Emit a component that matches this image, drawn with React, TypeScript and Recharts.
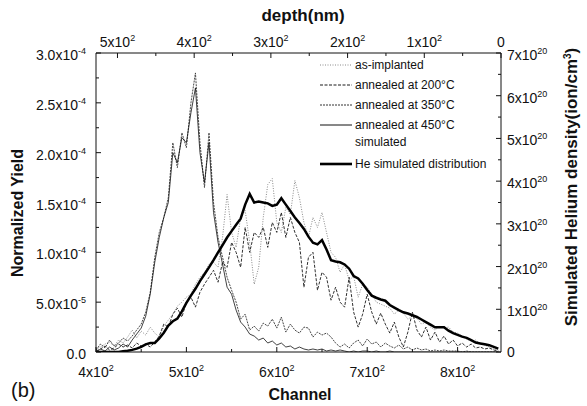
import React from 'react'
import { ComposedChart, Line, XAxis, YAxis, Legend } from 'recharts'

// channel grid, every 5 channels
const CHANNELS = [
  400, 405, 410, 415, 420, 425, 430, 435, 440, 445,
  450, 455, 460, 465, 470, 475, 480, 485, 490, 495,
  500, 505, 510, 515, 520, 525, 530, 535, 540, 545,
  550, 555, 560, 565, 570, 575, 580, 585, 590, 595,
  600, 605, 610, 615, 620, 625, 630, 635, 640, 645,
  650, 655, 660, 665, 670, 675, 680, 685, 690, 695,
  700, 705, 710, 715, 720, 725, 730, 735, 740, 745,
  750, 755, 760, 765, 770, 775, 780, 785, 790, 795,
  800, 805, 810, 815, 820, 825, 830, 835, 840, 845,
]

// normalized yield, units of 1e-5
const AS_IMPLANTED = [
  0.3, 0.5, 0.8, 1.0, 0.6, 1.2, 0.9, 1.5, 2.2, 1.4,
  2.1, 1.7, 2.5, 1.9, 1.5, 2.6, 3.2, 3.8, 4.6, 5.0,
  5.5, 5.8, 6.8, 7.5, 8.0, 8.8, 9.0, 8.5, 11.5, 15.8,
  12.0, 10.5, 13.5, 14.2, 11.0, 6.8, 8.5, 13.5, 16.8, 17.4,
  13.0, 12.0, 14.5, 13.8, 17.2, 15.5, 13.0, 11.5, 13.5, 12.5,
  14.0, 12.0, 10.0, 9.5, 8.0, 8.8, 7.2, 7.6, 5.5, 6.8,
  6.5, 5.8, 5.0, 4.8, 4.6, 4.4, 3.8, 4.2, 3.9, 3.3,
  3.6, 3.4, 2.8, 3.0, 2.5, 2.2, 2.6, 2.4, 2.5, 2.0,
  1.9, 1.6, 1.3, 1.1, 1.2, 0.8, 0.7, 0.5, 0.3, 0.2,
]
const ANNEAL_200 = [
  0.1, 0.3, 0.6, 0.2, 0.4, 0.8, 0.5, 0.7, 0.4, 0.9,
  0.6, 0.8, 0.5, 1.0, 1.6, 2.8, 2.5, 3.8, 4.4, 3.5,
  5.0, 5.5, 4.5, 6.0, 6.8, 7.5, 8.2, 7.0, 9.0, 8.5,
  11.0, 10.0, 8.5, 12.5, 10.0, 12.0, 11.5, 12.5, 10.5, 13.0,
  12.0, 14.0, 11.5, 13.5, 12.0, 11.0, 6.5, 9.5, 10.0, 6.2,
  8.0, 7.5, 5.2, 6.5, 5.0, 4.5, 7.5, 4.0, 2.5, 3.8,
  5.8, 4.0, 2.8, 3.9, 2.8, 1.9, 3.0, 1.5, 0.5, 2.0,
  4.0, 2.2, 1.5, 2.5, 1.2, 2.0, 1.0, 1.6, 0.8, 1.2,
  0.6, 0.9, 0.5, 0.8, 0.4, 0.5, 0.3, 0.4, 0.2, 0.1,
]
const ANNEAL_350 = [
  0.2, 0.8, 0.4, 1.2, 0.6, 0.9, 1.4, 1.1, 1.6, 2.2,
  2.8, 4.0, 6.0, 9.5, 12.0, 13.5, 15.5, 21.0, 18.5, 22.0,
  20.5, 25.0, 28.0, 21.0, 16.5, 22.0, 15.0, 11.5, 9.5, 7.5,
  6.2, 5.0, 3.3, 3.8, 2.2, 2.6, 2.1, 2.9, 2.6, 3.3,
  2.4, 3.5, 2.0, 2.8, 2.2, 1.9, 2.5, 2.4, 1.5, 2.0,
  1.7, 1.9, 1.5, 0.9, 0.5, 0.8, 0.4, 0.9, 1.2, 0.6,
  1.3, 0.8, 1.0, 0.5, 0.9, 0.6, 0.4, 0.7, 0.3, 0.5,
  0.2, 0.4, 0.2, 0.3, 0.1, 0.2, 0.1, 0.2, 0.1, 0.1,
  0.1, 0.0, 0.1, 0.0, 0.0, 0.0, 0.0, 0.0, 0.0, 0.0,
]
const ANNEAL_450 = [
  0.0, 0.3, 0.1, 0.5, 0.2, 0.4, 0.8, 0.5, 1.2, 1.8,
  2.4, 3.6, 5.8, 9.0, 11.5, 13.5, 15.0, 20.0, 19.0, 21.5,
  21.0, 24.0, 26.5, 20.0, 17.0, 21.0, 14.0, 11.0, 8.8, 6.5,
  5.8, 4.2, 3.0, 2.5, 1.8, 1.6, 1.2, 1.4, 0.9, 1.1,
  0.7, 0.9, 0.5, 0.6, 0.3, 0.5, 0.3, 0.2, 0.3, 0.2,
  0.3, 0.1, 0.2, 0.1, 0.2, 0.1, 0.0, 0.1, 0.0, 0.1,
  0.1, 0.0, 0.1, 0.0, 0.0, 0.1, 0.0, 0.0, 0.0, 0.0,
  0.0, 0.0, 0.0, 0.0, 0.0, 0.0, 0.0, 0.0, 0.0, 0.0,
  0.0, 0.0, 0.0, 0.0, 0.0, 0.0, 0.0, 0.0, 0.0, 0.0,
]
// He density, units of 1e20 ion/cm3
const HE_SIM = [
  0, 0, 0, 0, 0, 0, 0.02, 0.03, 0.05, 0.08,
  0.12, 0.18, 0.21, 0.21, 0.32, 0.45, 0.62, 0.72, 0.78, 0.95,
  1.15, 1.32, 1.48, 1.66, 1.82, 1.98, 2.15, 2.33, 2.5, 2.68,
  2.83, 2.98, 3.12, 3.45, 3.7, 3.5, 3.52, 3.5, 3.48, 3.42,
  3.45, 3.6, 3.45, 3.3, 3.15, 3.02, 2.88, 2.7, 2.56, 2.52,
  2.62, 2.4, 2.15, 2.12, 2.1, 2.05, 1.95, 1.78, 1.72, 1.6,
  1.45, 1.32, 1.27, 1.23, 1.2, 1.1, 1.04, 0.98, 0.93, 0.9,
  0.86, 0.82, 0.76, 0.7, 0.64, 0.58, 0.58, 0.58, 0.5, 0.44,
  0.4, 0.36, 0.33, 0.28, 0.22, 0.2, 0.18, 0.16, 0.12, 0.08,
]

const YIELD_TICKS = [0, 2.5, 5, 7.5, 10, 12.5, 15, 17.5, 20, 22.5, 25, 27.5, 30]
const HE_TICKS = [0, 0.5, 1, 1.5, 2, 2.5, 3, 3.5, 4, 4.5, 5, 5.5, 6, 6.5, 7]
const CHANNEL_TICKS = [400, 450, 500, 550, 600, 650, 700, 750, 800]
const DEPTH_TICKS = [0, 50, 100, 150, 200, 250, 300, 350, 400, 450, 500]

// depth axis runs right-to-left: 0 nm at the last channel, 528 nm at channel 400
const CH_MIN = 400
const CH_MAX = 848
const DEPTH_AT_MIN = 528
const depthToCh = (d: number) => CH_MAX - d * (CH_MAX - CH_MIN) / DEPTH_AT_MIN
const chToDepth = (c: number) => Math.round((CH_MAX - c) * DEPTH_AT_MIN / (CH_MAX - CH_MIN))

const data = CHANNELS.map((ch, i) => ({
  ch,
  asImpl: AS_IMPLANTED[i],
  a200: ANNEAL_200[i],
  a350: ANNEAL_350[i],
  a450: ANNEAL_450[i],
  he: HE_SIM[i],
}))

const FONT = '"Liberation Sans", Arial, Helvetica, sans-serif'
const INK = '#111'

const LEGEND_ROWS = [
  { label: 'as-implanted', stroke: '#8a8a8a', dash: '1 1.5', w: 1, top: 2 },
  { label: 'annealed at 200°C', stroke: '#1a1a1a', dash: '3 1.5', w: 1, top: 22 },
  { label: 'annealed at 350°C', stroke: '#333', dash: '2 1', w: 1, top: 42 },
  { label: 'annealed at 450°C', stroke: '#111', dash: undefined, w: 1, top: 62 },
  { label: 'simulated', stroke: null, dash: undefined, w: 0, top: 79 },
  { label: 'He simulated distribution', stroke: '#000', dash: undefined, w: 2.6, top: 101 },
]

function Sci({ x, y, anchor, base, exp }: { x: number; y: number; anchor: 'start' | 'middle' | 'end'; base: string; exp?: string }) {
  return (
    <text x={x} y={y} textAnchor={anchor} fontSize={14} fontFamily={FONT} fill={INK}>
      <tspan>{base}</tspan>
      {exp && <tspan dy={-6} fontSize={9}>{exp}</tspan>}
    </text>
  )
}

const BottomTick = (p: any) => {
  const v = p.payload.value
  const major = v % 100 === 0
  return (
    <g>
      <line x1={p.x} x2={p.x} y1={p.y} y2={p.y - (major ? 5 : 3)} stroke={INK} />
      {major && <Sci x={p.x} y={p.y + 25} anchor="middle" base={`${v / 100}x10`} exp="2" />}
    </g>
  )
}

const TopTick = (p: any) => {
  const v = chToDepth(p.payload.value)
  const major = v % 100 === 0
  return (
    <g>
      <line x1={p.x} x2={p.x} y1={p.y} y2={p.y + (major ? 5 : 3)} stroke={INK} />
      {major && (v === 0
        ? <Sci x={p.x} y={p.y - 6} anchor="middle" base="0" />
        : <Sci x={p.x} y={p.y - 6} anchor="middle" base={`${v / 100}x10`} exp="2" />)}
    </g>
  )
}

const LeftTick = (p: any) => {
  const v = p.payload.value
  const major = v % 5 === 0
  let base = '0.0'
  let exp: string | undefined
  if (v > 0) {
    if (v < 10) { base = `${v.toFixed(1)}x10`; exp = '-5' }
    else { base = `${(v / 10).toFixed(1)}x10`; exp = '-4' }
  }
  return (
    <g>
      <line x1={p.x} x2={p.x + (major ? 5 : 3)} y1={p.y} y2={p.y} stroke={INK} />
      {major && <Sci x={p.x - 10} y={p.y + 7} anchor="end" base={base} exp={exp} />}
    </g>
  )
}

const RightTick = (p: any) => {
  const v = p.payload.value
  const major = Number.isInteger(v)
  return (
    <g>
      <line x1={p.x} x2={p.x - (major ? 5 : 3)} y1={p.y} y2={p.y} stroke={INK} />
      {major && (v === 0
        ? <Sci x={p.x + 6} y={p.y + 5} anchor="start" base="0" />
        : <Sci x={p.x + 6} y={p.y + 7} anchor="start" base={`${v}x10`} exp="20" />)}
    </g>
  )
}

function LegendBox() {
  return (
    <div style={{ position: 'relative', width: 200, height: 120, fontFamily: FONT, fontSize: 12, color: INK }}>
      {LEGEND_ROWS.map(r => (
        <div key={r.label} style={{ position: 'absolute', left: 0, top: r.top, height: 16, display: 'flex', alignItems: 'center', whiteSpace: 'nowrap' }}>
          <svg width={36} height={16} style={{ display: 'block' }}>
            {r.stroke && <line x1={2} x2={34} y1={8} y2={8} stroke={r.stroke} strokeWidth={r.w} strokeDasharray={r.dash} />}
          </svg>
          <span style={{ marginLeft: 1 }}>{r.label}</span>
        </div>
      ))}
    </div>
  )
}

const title: React.CSSProperties = {
  position: 'absolute', fontFamily: FONT, fontWeight: 700, fontSize: 16,
  color: INK, whiteSpace: 'nowrap', transform: 'translate(-50%, -50%)',
}

export default function App() {
  return (
    <div style={{ position: 'relative', width: 587, height: 406, background: '#fff' }}>
      <style>{'body{margin:0}'}</style>
      <ComposedChart width={587} height={406} data={data} margin={{ top: 23, right: 26, bottom: 24, left: 36 }}>
        <XAxis dataKey="ch" type="number" domain={[CH_MIN, CH_MAX]} allowDataOverflow ticks={CHANNEL_TICKS} interval={0}
          tick={<BottomTick />} tickLine={false} tickSize={0} tickMargin={0} height={30} axisLine={{ stroke: INK }} />
        <XAxis xAxisId="top" dataKey="ch" orientation="top" type="number" domain={[CH_MIN, CH_MAX]} allowDataOverflow
          ticks={DEPTH_TICKS.map(depthToCh)} interval={0}
          tick={<TopTick />} tickLine={false} tickSize={0} tickMargin={0} height={30} axisLine={{ stroke: INK }} />
        <YAxis yAxisId="left" type="number" domain={[0, 30]} allowDataOverflow ticks={YIELD_TICKS} interval={0}
          tick={<LeftTick />} tickLine={false} tickSize={0} tickMargin={0} width={60} axisLine={{ stroke: INK }} />
        <YAxis yAxisId="right" orientation="right" type="number" domain={[0, 7]} allowDataOverflow ticks={HE_TICKS} interval={0}
          tick={<RightTick />} tickLine={false} tickSize={0} tickMargin={0} width={60} axisLine={{ stroke: INK }} />
        <Legend content={<LegendBox />} layout="horizontal" verticalAlign="middle" align="center"
          wrapperStyle={{ left: 318, top: 55, width: 200, height: 120 }} />
        {/* invisible carrier so the depth axis gets a scale */}
        <Line xAxisId="top" yAxisId="left" dataKey="a450" stroke="none" dot={false} legendType="none" isAnimationActive={false} />
        <Line yAxisId="left" dataKey="asImpl" type="linear" stroke="#8a8a8a" strokeWidth={1} strokeDasharray="1 1.5" dot={false} isAnimationActive={false} />
        <Line yAxisId="left" dataKey="a200" type="linear" stroke="#1a1a1a" strokeWidth={0.9} strokeDasharray="3 1.5" dot={false} isAnimationActive={false} />
        <Line yAxisId="left" dataKey="a350" type="linear" stroke="#333" strokeWidth={0.9} strokeDasharray="2 1" dot={false} isAnimationActive={false} />
        <Line yAxisId="left" dataKey="a450" type="linear" stroke="#111" strokeWidth={0.8} dot={false} isAnimationActive={false} />
        <Line yAxisId="right" dataKey="he" type="linear" stroke="#000" strokeWidth={2.5} dot={false} isAnimationActive={false} />
      </ComposedChart>
      <div style={{ ...title, left: 18, top: 213, transform: 'translate(-50%, -50%) rotate(-90deg)' }}>Normalized Yield</div>
      <div style={{ ...title, left: 572, top: 187, fontSize: 17, transform: 'translate(-50%, -50%) rotate(-90deg)' }}>
        Simulated Helium density(ion/cm<sup style={{ fontSize: 10 }}>3</sup>)
      </div>
      <div style={{ ...title, left: 300, top: 395 }}>Channel</div>
      <div style={{ ...title, left: 303, top: 16, fontSize: 17 }}>depth(nm)</div>
      <div style={{ position: 'absolute', left: 11, top: 379, fontFamily: FONT, fontSize: 20, color: INK }}>(b)</div>
    </div>
  )
}
